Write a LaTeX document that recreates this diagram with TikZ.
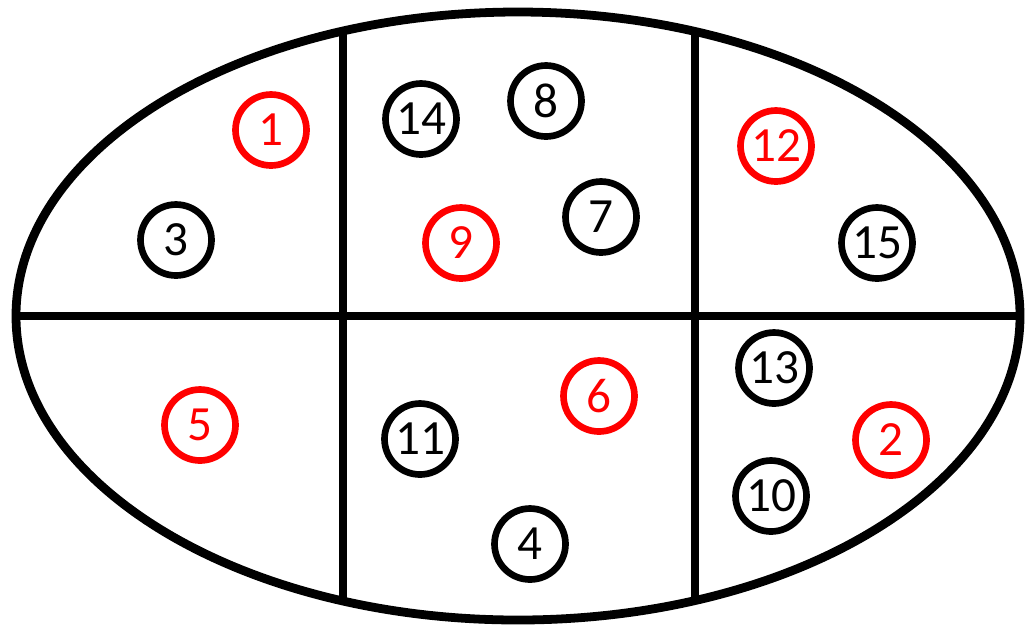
\documentclass[tikz,border=0pt]{standalone}
\usepackage{fontspec}
\setmainfont{Carlito}
\usepackage{tikz}
\usetikzlibrary{positioning}

\begin{document}
\begin{tikzpicture}[
      x=0.02cm, y=-0.02cm,
      every node/.style={circle, draw, line width=3.8pt, minimum size=1.42cm,
        inner sep=0pt, font=\fontsize{28}{30}\selectfont},
      red/.style={draw=red, text=red}
    ]
      \useasboundingbox (0,0) rectangle (1026,627);

      % the region and its six parts
      \begin{scope}
        \clip (518,316) ellipse [x radius=502, y radius=304];
        \draw[line width=5pt] (0,316) -- (1026,316);
        \draw[line width=5pt] (343,0) -- (343,627);
        \draw[line width=5pt] (695,0) -- (695,627);
      \end{scope}
      \draw[line width=5pt] (518,316) ellipse [x radius=502, y radius=304];

      % top row
      \node[red] (n1) at (271,130) {1};
      \node (n3) at (176,240) {3};
      \node (n14) at (421,119) {14};
      \node (n8) at (546,101) {8};
      \node (n7) at (601,217) {7};
      \node[red] (n9) at (461,243) {9};
      \node[red] (n12) at (776,146) {12};
      \node (n15) at (877,243) {15};

      % bottom row
      \node[red] (n5) at (200,425) {5};
      \node (n11) at (420,439) {11};
      \node[red] (n6) at (599,396) {6};
      \node (n4) at (530,544) {4};
      \node (n13) at (774,368) {13};
      \node[red] (n2) at (891,440) {2};
      \node (n10) at (771,496) {10};
    \end{tikzpicture}
\end{document}
